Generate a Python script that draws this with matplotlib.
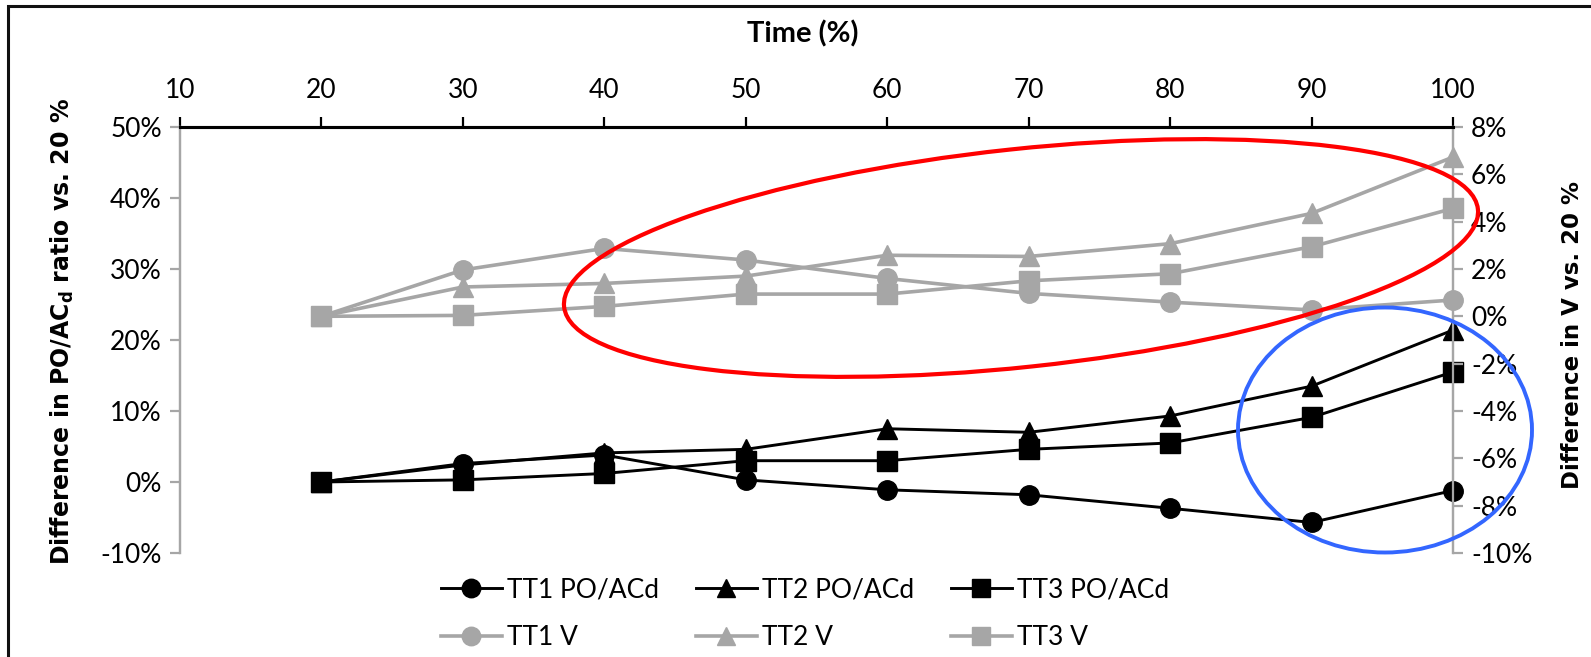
import matplotlib
matplotlib.use("Agg")
import matplotlib.pyplot as plt
from matplotlib.patches import Ellipse, Rectangle
from matplotlib.ticker import FuncFormatter, MultipleLocator

# time points (% of test duration)
time_pct = [20, 30, 40, 50, 60, 70, 80, 90, 100]

# difference in PO/ACd ratio vs. 20 % (%), left axis
tt1_poacd = [0.0, 2.6, 3.8, 0.3, -1.1, -1.8, -3.7, -5.7, -1.2]
tt2_poacd = [0.0, 2.4, 4.1, 4.6, 7.5, 7.0, 9.3, 13.5, 21.4]
tt3_poacd = [0.0, 0.3, 1.2, 3.0, 3.0, 4.6, 5.5, 9.1, 15.5]

# difference in V vs. 20 % (%), right axis
tt1_v = [0.0, 1.96, 2.87, 2.38, 1.6, 0.97, 0.6, 0.27, 0.69]
tt2_v = [0.0, 1.24, 1.39, 1.7, 2.58, 2.53, 3.07, 4.35, 6.73]
tt3_v = [0.0, 0.04, 0.42, 0.94, 0.94, 1.5, 1.8, 2.94, 4.56]

series_names = ["TT1", "TT2", "TT3"]
markers = ["o", "^", "s"]

BLACK = "#000000"
GRAY = "#A6A6A6"
TICK_FONT = "Lato"

fig = plt.figure(figsize=(15.91, 6.57), dpi=100)
ax = fig.add_axes([0.1131, 0.1583, 0.8002, 0.6484])
ax2 = ax.twinx()

lines_left = []
for vals, mk, name in zip([tt1_poacd, tt2_poacd, tt3_poacd], markers, series_names):
    ln, = ax.plot(time_pct, vals, color=BLACK, lw=2.1, marker=mk, ms=14,
                  label=f"{name} PO/ACd", clip_on=False, zorder=3)
    lines_left.append(ln)

lines_right = []
for vals, mk, name in zip([tt1_v, tt2_v, tt3_v], markers, series_names):
    ln, = ax2.plot(time_pct, vals, color=GRAY, lw=2.6, marker=mk, ms=14,
                   label=f"{name} V", clip_on=False, zorder=3)
    lines_right.append(ln)

pct = FuncFormatter(lambda v, p: f"{v:.0f}%")

# x axis sits on top
ax.set_xlim(10, 100)
ax.xaxis.set_major_locator(MultipleLocator(10))
ax.xaxis.tick_top()
ax.xaxis.set_label_position("top")
ax.set_xlabel("Time (%)", fontsize=21, fontweight="bold", family=TICK_FONT)
ax.xaxis.label.set_va("center")
ax.xaxis.set_label_coords(0.489, 1.218)

ax.set_ylim(-10, 50)
ax.yaxis.set_major_locator(MultipleLocator(10))
ax.yaxis.set_major_formatter(pct)
ax.set_ylabel("Difference in PO/AC$_\\mathbf{d}$ ratio vs. 20 %", fontsize=17,
              fontweight="bold")
ax.yaxis.set_label_coords(-0.082, 0.52)

ax2.set_ylim(-10, 8)
ax2.yaxis.set_major_locator(MultipleLocator(2))
ax2.yaxis.set_major_formatter(pct)
ax2.set_ylabel("Difference in V vs. 20 %", fontsize=16.5, fontweight="bold",
               rotation=90)
ax2.yaxis.set_label_coords(1.085, 0.512)

for a in (ax, ax2):
    a.spines["bottom"].set_visible(False)
    a.spines["top"].set_color(BLACK)
    a.spines["top"].set_linewidth(2.2)
    a.spines["left"].set_color(GRAY)
    a.spines["left"].set_linewidth(1.6)
    a.spines["right"].set_color(GRAY)
    a.spines["right"].set_linewidth(1.6)
    a.set_facecolor("none")

ax.tick_params(axis="x", direction="out", length=7, width=1.6, color=BLACK,
               pad=10, labelsize=19)
ax.tick_params(axis="y", direction="out", length=7, width=1.6, color=GRAY,
               pad=6, labelsize=19)
ax2.tick_params(axis="y", direction="out", length=7, width=1.6, color=GRAY,
                pad=6, labelsize=19)
for lbl in ax.get_xticklabels() + ax.get_yticklabels() + ax2.get_yticklabels():
    lbl.set_family(TICK_FONT)

# highlight ellipses, sized in pixels at 100 dpi
ell_red = Ellipse((10.21, (657 - 258) / 100), 9.19, 2.18, angle=6.1,
                  transform=fig.dpi_scale_trans, fill=False,
                  edgecolor="#FF0000", lw=3.0, zorder=10)
ell_blue = Ellipse((13.85, (657 - 430) / 100), 2.94, 2.45, angle=0,
                   transform=fig.dpi_scale_trans, fill=False,
                   edgecolor="#3366FF", lw=2.8, zorder=10)
fig.add_artist(ell_red)
fig.add_artist(ell_blue)

# outer frame (runs off the right and bottom edges)
frame = Rectangle((8 / 1591, -0.1), 1.2, 1.1 - 6 / 657,
                  transform=fig.transFigure, fill=False, edgecolor="#111111",
                  lw=2.2, clip_on=False)
fig.add_artist(frame)

# legend: three columns, PO/ACd row first then V row
handles = []
for l, r in zip(lines_left, lines_right):
    handles += [l, r]
leg = fig.legend(handles, [h.get_label() for h in handles], ncol=3,
                 loc="center", bbox_to_anchor=(0.506, 0.066), frameon=False,
                 prop={"family": TICK_FONT, "size": 19},
                 handlelength=2.3, handletextpad=0.2, columnspacing=1.4,
                 labelspacing=0.85, markerscale=0.95)

fig.savefig("out.png", dpi=100)
